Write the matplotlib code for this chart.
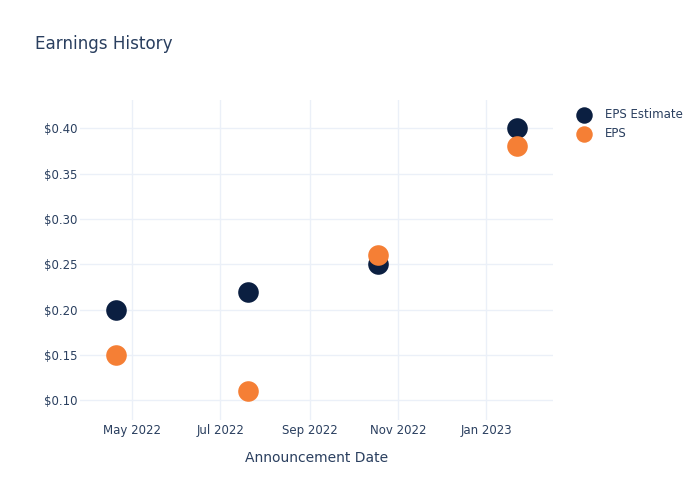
import matplotlib
matplotlib.use("Agg")
import matplotlib.pyplot as plt
import matplotlib.dates as mdates
import numpy as np
import pandas as pd

# data
dates = pd.to_datetime(["2022-04-20", "2022-07-20", "2022-10-18", "2023-01-22"])
eps_estimate = [0.20, 0.22, 0.25, 0.40]
eps_actual = [0.15, 0.11, 0.26, 0.38]
y_ticks = [0.10, 0.15, 0.20, 0.25, 0.30, 0.35, 0.40]
x_ticks = ["2022-05-01", "2022-07-01", "2022-09-01", "2022-11-01", "2023-01-01"]

txt = "#2a3f5f"
grid = "#ebf0f8"

fig = plt.figure(figsize=(7, 5), dpi=100)
ax = fig.add_axes([80 / 700, 1 - 420 / 500, 473 / 700, 320 / 500])

ax.scatter(dates, eps_estimate, s=220, color="#0b1f41", label="EPS Estimate", zorder=3, linewidths=0)
ax.scatter(dates, eps_actual, s=220, color="#f57f35", label="EPS", zorder=3, linewidths=0)

ax.set_xlim(pd.Timestamp("2022-03-26"), pd.Timestamp("2023-02-16"))
ax.set_ylim(0.0785, 0.431)
ax.set_yticks(y_ticks)
ax.yaxis.set_major_formatter(matplotlib.ticker.FuncFormatter(lambda v, p: f"${v:.2f}"))
ax.set_xticks(pd.to_datetime(x_ticks))
ax.xaxis.set_major_formatter(mdates.DateFormatter("%b %Y"))

ax.grid(True, color=grid, lw=1)
ax.set_axisbelow(True)
for s in ax.spines.values():
    s.set_visible(False)
ax.tick_params(length=0, labelsize=8.5, colors=txt)
ax.tick_params(axis="x", pad=3)
ax.tick_params(axis="y", pad=2)
ax.set_xlabel("Announcement Date", fontsize=10, color=txt, labelpad=10)

fig.text(35 / 700, 1 - 44 / 500, "Earnings History", fontsize=12.1, color=txt, va="center")

leg = ax.legend(loc="upper left", bbox_to_anchor=(1.03, 0.99), frameon=False,
                fontsize=8.5, labelcolor=txt, markerscale=0.8, handletextpad=0.8,
                labelspacing=0.5, borderaxespad=0)

fig.savefig("out.png", dpi=100)
